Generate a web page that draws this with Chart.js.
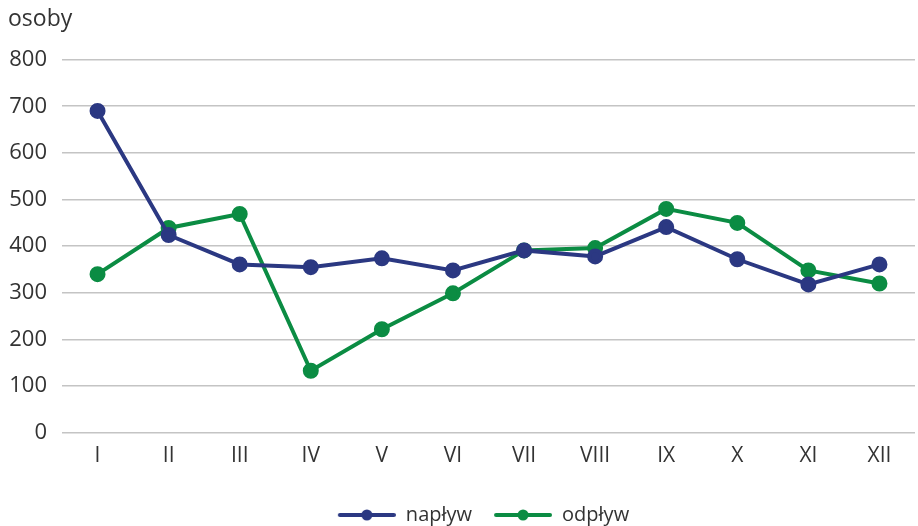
<!DOCTYPE html>
<html>
<head>
<meta charset="utf-8">
<script src="https://cdn.jsdelivr.net/npm/chart.js@4"></script>
<style>
  html, body { margin: 0; padding: 0; background: #fff; }
  #wrap { width: 918px; height: 526px; }
</style>
</head>
<body>
<div id="wrap"><canvas id="chart"></canvas></div>
<script>
const months = ['I', 'II', 'III', 'IV', 'V', 'VI', 'VII', 'VIII', 'IX', 'X', 'XI', 'XII'];
const naplyw = [690, 424, 361, 355, 374, 348, 391, 378, 441, 372, 318, 361];
const odplyw = [340, 439, 469, 133, 222, 299, 391, 396, 480, 450, 348, 320];

const navy = '#2b3882';
const green = '#0b8c43';
const font = 'Open Sans';

// legend marker: a short line with a dot, with some empty room on the left
function legendMark(color) {
    const c = document.createElement('canvas');
    c.width = 78;
    c.height = 14;
    const ctx = c.getContext('2d');
    ctx.strokeStyle = color;
    ctx.lineWidth = 4;
    ctx.lineCap = 'round';
    ctx.beginPath();
    ctx.moveTo(22, 7);
    ctx.lineTo(76, 7);
    ctx.stroke();
    ctx.fillStyle = color;
    ctx.beginPath();
    ctx.arc(49, 7, 5.5, 0, Math.PI * 2);
    ctx.fill();
    return c;
}

// centre the legend under the plot area instead of the whole canvas
const legendUnderPlot = {
    id: 'legendUnderPlot',
    afterLayout(chart) {
        const lg = chart.legend;
        const area = chart.chartArea;
        const shift = (area.left + area.right) / 2 - (lg.left + lg.right) / 2 - 15;
        lg.left += shift;
        lg.right += shift;
    },
};

const ctx = document.getElementById('chart').getContext('2d');
new Chart(ctx, {
    type: 'line',
    data: {
        labels: months,
        datasets: [
            {
                label: 'napływ',
                data: naplyw,
                borderColor: navy,
                backgroundColor: navy,
                borderWidth: 4,
                pointRadius: 6,
                pointHoverRadius: 6,
                tension: 0,
            },
            {
                label: 'odpływ',
                data: odplyw,
                borderColor: green,
                backgroundColor: green,
                borderWidth: 4,
                pointRadius: 6,
                pointHoverRadius: 6,
                tension: 0,
            },
        ],
    },
    plugins: [legendUnderPlot],
    options: {
        responsive: true,
        maintainAspectRatio: false,
        animation: false,
        layout: { autoPadding: false, padding: { left: 8, right: 3, top: 0, bottom: -9 } },
        plugins: {
            title: {
                display: true,
                text: 'osoby',
                align: 'start',
                color: '#333',
                font: { family: font, size: 23, weight: 'normal' },
                padding: { top: 6, bottom: 26 },
            },
            legend: {
                position: 'bottom',
                labels: {
                    color: '#333',
                    font: { family: font, size: 20 },
                    usePointStyle: true,
                    pointStyleWidth: 78,
                    padding: 2,
                    generateLabels: (chart) => chart.data.datasets.map((ds, i) => ({
                        text: ds.label,
                        fontColor: '#333',
                        pointStyle: legendMark(ds.borderColor),
                        datasetIndex: i,
                        lineWidth: 0,
                    })),
                },
            },
            tooltip: { enabled: false },
        },
        scales: {
            x: {
                offset: true,
                grid: { display: false },
                border: { display: false },
                ticks: {
                    color: '#333',
                    font: { family: font, size: 21 },
                    padding: 3,
                },
                // leave room between the month labels and the legend
                afterFit: (scale) => { scale.height += 31; },
            },
            y: {
                min: 0,
                max: 800,
                border: { display: false },
                grid: { color: '#c4c4c4', lineWidth: 1.5, drawTicks: false },
                ticks: {
                    stepSize: 100,
                    color: '#333',
                    font: { family: font, size: 22 },
                    padding: 15,
                },
                afterFit: (scale) => { scale.width = 54; },
            },
        },
    },
});
</script>
</body>
</html>
